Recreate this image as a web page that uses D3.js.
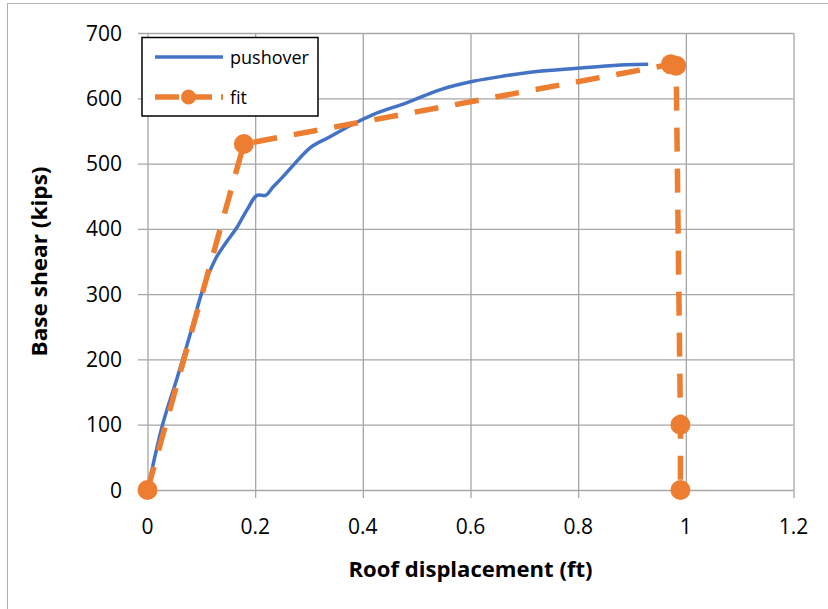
<!DOCTYPE html>
<html>
<head>
<meta charset="utf-8">
<script src="https://cdn.jsdelivr.net/npm/d3@7"></script>
<style>
  html, body { margin: 0; padding: 0; background: #fff; }
  svg { display: block; }
  text { font-family: "Open Sans", "Liberation Sans", sans-serif; fill: #000; }
</style>
</head>
<body>
<div id="chart"></div>
<script>
// pushover curve
const pushX = [0, 0.028, 0.054, 0.078, 0.1, 0.127, 0.145, 0.166, 0.184, 0.206, 0.218, 0.234, 0.246, 0.268,
               0.302, 0.339, 0.376, 0.419, 0.481, 0.543, 0.605, 0.661, 0.723, 0.797, 0.859, 0.93];
const pushY = [0, 100, 169, 235, 300, 355, 378, 402, 428, 452, 451, 465, 475, 495,
               524, 541, 558, 575, 593, 613, 626, 634, 641, 646, 650, 652];

// bilinear fit
const fitX = [0, 0.179, 0.972, 0.982, 0.99, 0.99];
const fitY = [0, 530, 652, 650, 100, 0];

const xTicks = [0, 0.2, 0.4, 0.6, 0.8, 1, 1.2];
const yTicks = [0, 100, 200, 300, 400, 500, 600, 700];

const seriesNames = ['pushover', 'fit'];
const colors = { pushover: '#4472C4', fit: '#ED7D31' };

const width = 828, height = 609;
const plot = { left: 147.5, right: 793.5, top: 33, bottom: 490 };

const svg = d3.select('#chart').append('svg')
    .attr('width', width)
    .attr('height', height);

// outer chart frame
svg.append('rect')
    .attr('x', 7.5).attr('y', 3.5)
    .attr('width', 900).attr('height', 700)
    .attr('fill', 'none')
    .attr('stroke', '#b0b0b0')
    .attr('stroke-width', 1);

const x = d3.scaleLinear().domain([0, 1.2]).range([plot.left, plot.right]);
const y = d3.scaleLinear().domain([0, 700]).range([plot.bottom, plot.top]);

// gridlines, with short tick marks sticking out past the axes
const gx = svg.append('g')
    .attr('transform', `translate(0,${plot.bottom + 8})`)
    .call(d3.axisBottom(x).tickValues(xTicks).tickSize(-(plot.bottom - plot.top + 8)).tickFormat(''));
gx.select('.domain').remove();
gx.selectAll('line').attr('stroke', '#a6a6a6').attr('stroke-width', 1.3);

const gy = svg.append('g')
    .attr('transform', `translate(${plot.left - 9.5},0)`)
    .call(d3.axisLeft(y).tickValues(yTicks).tickSize(-(plot.right - plot.left + 9.5)).tickFormat(''));
gy.select('.domain').remove();
gy.selectAll('line').attr('stroke', '#a6a6a6').attr('stroke-width', 1.3);

// tick labels
svg.append('g').selectAll('text')
    .data(xTicks)
    .enter().append('text')
    .attr('x', d => x(d))
    .attr('y', 534)
    .attr('text-anchor', 'middle')
    .style('font-size', '21px')
    .text(d => String(d));

svg.append('g').selectAll('text')
    .data(yTicks)
    .enter().append('text')
    .attr('x', 122)
    .attr('y', d => y(d) + 7.5)
    .attr('text-anchor', 'end')
    .style('font-size', '21px')
    .text(d => String(d));

// axis titles
svg.append('text')
    .attr('x', (plot.left + plot.right) / 2)
    .attr('y', 577)
    .attr('text-anchor', 'middle')
    .attr('textLength', 244)
    .attr('lengthAdjust', 'spacingAndGlyphs')
    .style('font-size', '21px')
    .style('font-weight', 'bold')
    .text('Roof displacement (ft)');

svg.append('text')
    .attr('transform', `translate(47,${(plot.top + plot.bottom) / 2}) rotate(-90)`)
    .attr('text-anchor', 'middle')
    .attr('textLength', 190)
    .attr('lengthAdjust', 'spacingAndGlyphs')
    .style('font-size', '21px')
    .style('font-weight', 'bold')
    .text('Base shear (kips)');

const line = d3.line()
    .x(d => x(d[0]))
    .y(d => y(d[1]));

const pushData = pushX.map((v, i) => [v, pushY[i]]);
const fitData = fitX.map((v, i) => [v, fitY[i]]);

// pushover curve
svg.append('path')
    .datum(pushData)
    .attr('d', line.curve(d3.curveMonotoneX))
    .attr('fill', 'none')
    .attr('stroke', colors.pushover)
    .attr('stroke-width', 3.5)
    .attr('stroke-linejoin', 'round');

// fit line, long dash
svg.append('path')
    .datum(fitData)
    .attr('d', line.curve(d3.curveLinear))
    .attr('fill', 'none')
    .attr('stroke', colors.fit)
    .attr('stroke-width', 5.5)
    .attr('stroke-dasharray', '24,17');

svg.append('g').selectAll('circle')
    .data(fitData)
    .enter().append('circle')
    .attr('cx', d => x(d[0]))
    .attr('cy', d => y(d[1]))
    .attr('r', 10)
    .attr('fill', colors.fit);

// legend
const legend = svg.append('g');
legend.append('rect')
    .attr('x', 142).attr('y', 37.5)
    .attr('width', 176).attr('height', 78.5)
    .attr('fill', '#fff')
    .attr('stroke', '#000')
    .attr('stroke-width', 1.5);

const rows = legend.selectAll('g.row')
    .data(seriesNames)
    .enter().append('g')
    .attr('class', 'row')
    .attr('transform', (d, i) => `translate(0,${57 + i * 40})`);

rows.append('line')
    .attr('x1', 155).attr('x2', 223)
    .attr('y1', 0).attr('y2', 0)
    .attr('stroke', d => colors[d])
    .attr('stroke-width', d => d === 'fit' ? 5.5 : 3.5)
    .attr('stroke-dasharray', d => d === 'fit' ? '24,9' : null);

rows.filter(d => d === 'fit').append('circle')
    .attr('cx', 188.5).attr('cy', 0)
    .attr('r', 7.5)
    .attr('fill', colors.fit);

rows.append('text')
    .attr('x', 230)
    .attr('y', 7)
    .style('font-size', '18px')
    .text(d => d);
</script>
</body>
</html>
